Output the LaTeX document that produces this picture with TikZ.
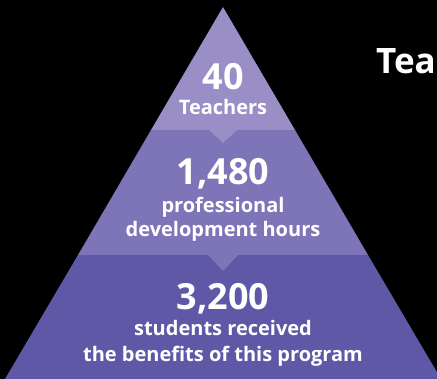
\documentclass[tikz,border=0pt]{standalone}
\usepackage{fontspec}
\setmainfont{Open Sans}
\usepackage{tikz}
\usetikzlibrary{positioning}
\definecolor{bandtop}{HTML}{9A8EC6}
\definecolor{bandmid}{HTML}{7D75B8}
\definecolor{bandlow}{HTML}{5E58A7}
\tikzset{big/.style = {text = white, font = \fontsize{36}{36}\selectfont\bfseries, anchor = base, inner sep = 0},
         small/.style = {text = white, font = \fontsize{20}{24}\selectfont\bfseries, anchor = base, inner sep = 0, align = center}}

\begin{document}
\begin{tikzpicture}[x=1pt,y=-1pt]
            \fill [black] (0,0) rectangle (437,379);
            \useasboundingbox (0,0) rectangle (437,379);
            \fill [bandlow] (78,255)--(368,255)--(441,379)--(5,379)--cycle;
            \fill [bandmid] (151,130)--(295,130)--(368,255)--(78,255)--cycle;
            \fill [bandtop] (223,7)--(295,130)--(151,130)--cycle;
            \fill [bandtop] (209,130)--(237,130)--(223,143)--cycle;
            \fill [bandmid] (208,255)--(238,255)--(223,271)--cycle;
            \node [big] (forty) at (223,90) {40};
            \node [small] (teachers) at (223,115) {Teachers};
            \node [big] (hours) at (223,185) {1,480};
            \node [small] (professional) at (223,213) {professional};
            \node [small] (development) at (223,237) {development hours};
            \node [big] (students) at (223,310) {3,200};
            \node [small] (received) at (223,336) {students received};
            \node [small] (benefits) at (223,362) {the benefits of this program};
            \node [text = white, font = \fontsize{35}{35}\selectfont\bfseries, anchor = base west, inner sep = 0] (tea) at (376,74) {Tea};
        \end{tikzpicture}
\end{document}
